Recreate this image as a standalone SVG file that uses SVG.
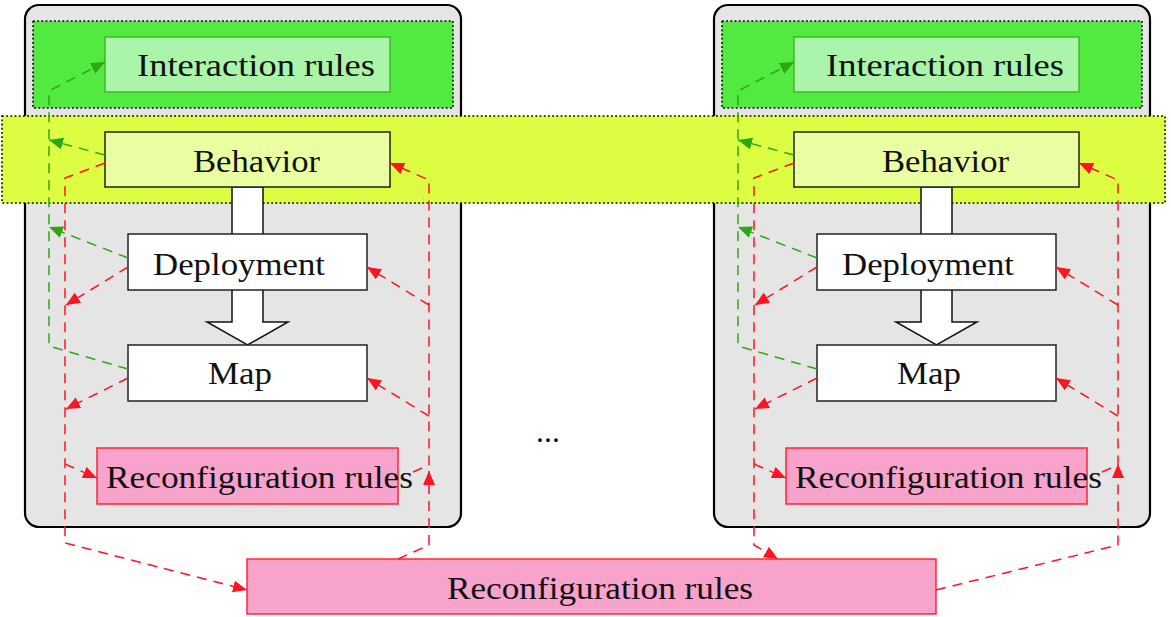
<svg xmlns="http://www.w3.org/2000/svg" width="1171" height="617" viewBox="0 0 1171 617">
<defs>
<style>
.panel{fill:#e5e5e5;stroke:#000;stroke-width:2.2}
.greg{fill:#52ea41;stroke:#000;stroke-width:1.6;stroke-dasharray:1.8 2.4}
.yband{fill:#dcfd42;stroke:#000;stroke-width:1.6;stroke-dasharray:1.8 2.4}
.ir{fill:#aaf5aa;stroke:#3cb521;stroke-width:1.4}
.beh{fill:#eaffa2;stroke:#222;stroke-width:1.5}
.wb{fill:#fff;stroke:#222;stroke-width:1.5}
.rr{fill:#f7a3cb;stroke:#ff1a2a;stroke-width:1.4}
.big{fill:#fff;stroke:#111;stroke-width:1.5;stroke-linejoin:miter}
.t{font-family:"Liberation Serif","DejaVu Serif",serif;font-size:32px;fill:#111}
.g{fill:none;stroke:#2ea812;stroke-width:1.5;stroke-dasharray:10 7}
.r{fill:none;stroke:#ff1424;stroke-width:1.5;stroke-dasharray:10 7}
</style>
<marker id="ag" markerUnits="userSpaceOnUse" markerWidth="15" markerHeight="13" refX="14" refY="6" orient="auto"><path d="M0,0 L14,6 L0,12 z" fill="#2ea812"/></marker>
<marker id="ar" markerUnits="userSpaceOnUse" markerWidth="15" markerHeight="13" refX="14" refY="6" orient="auto"><path d="M0,0 L14,6 L0,12 z" fill="#ff1424"/></marker>
</defs>

<g id="panel-left"><rect class="panel" x="25" y="5" width="436" height="522" rx="14"/></g>
<g id="panel-right"><rect class="panel" x="714" y="5" width="436" height="522" rx="14"/></g>

<g id="interaction-region-left"><rect class="greg" x="33" y="21" width="420" height="87"/></g>
<g id="interaction-region-right"><rect class="greg" x="722" y="21" width="420" height="87"/></g>

<g id="interaction-left"><rect class="ir" x="105" y="37" width="285" height="55"/><text class="t" x="137" y="76" textLength="238" lengthAdjust="spacingAndGlyphs">Interaction rules</text></g>
<g id="interaction-right"><rect class="ir" x="794" y="37" width="285" height="55"/><text class="t" x="826" y="76" textLength="238" lengthAdjust="spacingAndGlyphs">Interaction rules</text></g>

<g id="behavior-band"><rect class="yband" x="2" y="116" width="1163" height="87"/></g>

<g id="flow-arrows">
<path class="big" d="M232,187 L232,322 L207,322 L247.5,345 L288,322 L263,322 L263,187 Z"/>
<path class="big" d="M921,187 L921,322 L896,322 L936.5,345 L977,322 L952,322 L952,187 Z"/>
</g>

<g id="behavior-left"><rect class="beh" x="105" y="132" width="285" height="55"/><text class="t" x="193" y="172" textLength="127" lengthAdjust="spacingAndGlyphs">Behavior</text></g>
<g id="behavior-right"><rect class="beh" x="794" y="132" width="285" height="55"/><text class="t" x="882" y="172" textLength="127" lengthAdjust="spacingAndGlyphs">Behavior</text></g>

<g id="deployment-left"><rect class="wb" x="128" y="234" width="239" height="56"/><text class="t" x="153" y="275" textLength="172" lengthAdjust="spacingAndGlyphs">Deployment</text></g>
<g id="deployment-right"><rect class="wb" x="817" y="234" width="239" height="56"/><text class="t" x="842" y="275" textLength="172" lengthAdjust="spacingAndGlyphs">Deployment</text></g>

<g id="map-left"><rect class="wb" x="128" y="345" width="239" height="56"/><text class="t" x="208" y="384" textLength="64" lengthAdjust="spacingAndGlyphs">Map</text></g>
<g id="map-right"><rect class="wb" x="817" y="345" width="239" height="56"/><text class="t" x="897" y="384" textLength="64" lengthAdjust="spacingAndGlyphs">Map</text></g>

<g id="reconf-left"><rect class="rr" x="97" y="448" width="301" height="56"/><text class="t" x="106" y="488" textLength="307" lengthAdjust="spacingAndGlyphs">Reconfiguration rules</text></g>
<g id="reconf-right"><rect class="rr" x="786" y="448" width="301" height="56"/><text class="t" x="795" y="488" textLength="307" lengthAdjust="spacingAndGlyphs">Reconfiguration rules</text></g>

<g id="reconf-global"><rect class="rr" x="247" y="559" width="689" height="55"/><text class="t" x="447" y="599" textLength="306" lengthAdjust="spacingAndGlyphs">Reconfiguration rules</text></g>

<g id="ellipsis"><text class="t" x="536" y="442" textLength="24" lengthAdjust="spacingAndGlyphs">...</text></g>

<g id="connectors">
<polyline class="g" points="128,369 49,346 49,91 105,62" marker-end="url(#ag)"/>
<polyline class="g" points="105,155 49,140" marker-end="url(#ag)"/>
<polyline class="g" points="128,258 49,227" marker-end="url(#ag)"/>
<polyline class="r" points="105,163 65,178 65,543 247,590" marker-end="url(#ar)"/>
<polyline class="r" points="128,267 66,305" marker-end="url(#ar)"/>
<polyline class="r" points="128,378 66,409" marker-end="url(#ar)"/>
<polyline class="r" points="65,464 97,478" marker-end="url(#ar)"/>
<polyline class="r" points="413,472 429,465 429,180 390,163" marker-end="url(#ar)"/>
<polyline class="r" points="429,305 367,267" marker-end="url(#ar)"/>
<polyline class="r" points="429,416 367,378" marker-end="url(#ar)"/>
<polyline class="r" points="398,559 429,545 429,471" marker-end="url(#ar)"/>

<polyline class="g" points="817,369 738,346 738,91 794,62" marker-end="url(#ag)"/>
<polyline class="g" points="794,155 738,140" marker-end="url(#ag)"/>
<polyline class="g" points="817,258 738,227" marker-end="url(#ag)"/>
<polyline class="r" points="794,163 754,178 754,545 778,559" marker-end="url(#ar)"/>
<polyline class="r" points="817,267 755,305" marker-end="url(#ar)"/>
<polyline class="r" points="817,378 755,409" marker-end="url(#ar)"/>
<polyline class="r" points="754,464 786,478" marker-end="url(#ar)"/>
<polyline class="r" points="1102,472 1118,465 1118,180 1079,163" marker-end="url(#ar)"/>
<polyline class="r" points="1118,305 1056,267" marker-end="url(#ar)"/>
<polyline class="r" points="1118,416 1056,378" marker-end="url(#ar)"/>
<polyline class="r" points="936,590 1118,545 1118,464" marker-end="url(#ar)"/>
</g>
</svg>
